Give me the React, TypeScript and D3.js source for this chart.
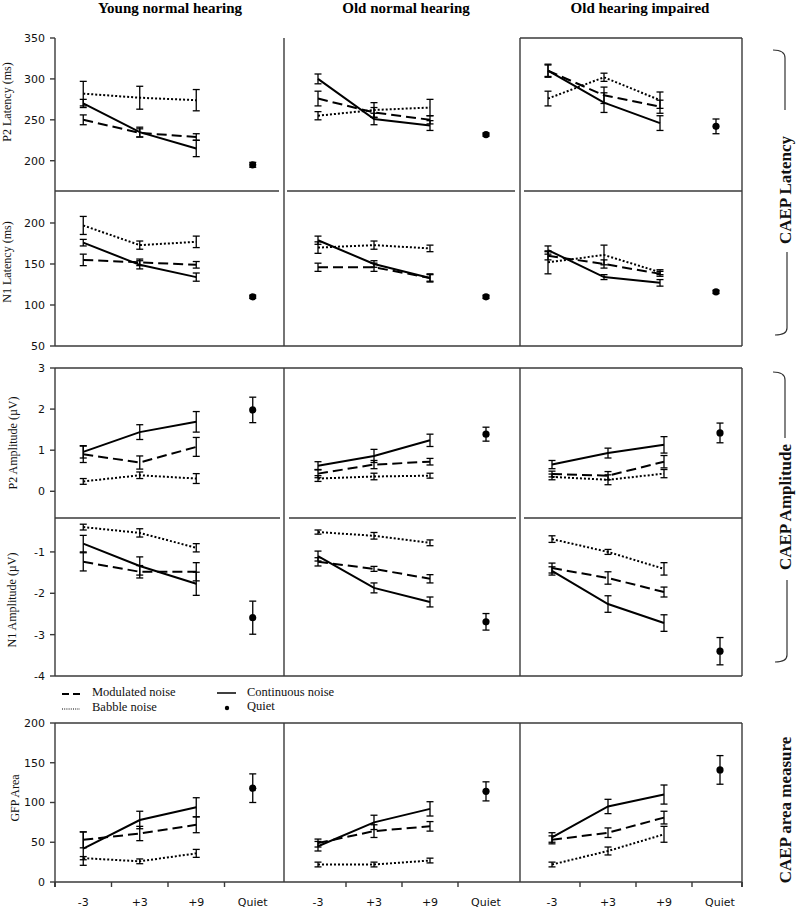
import { useEffect, useRef } from 'react';
import * as d3 from 'd3';

const groups = ['Young normal hearing', 'Old normal hearing', 'Old hearing impaired'];
const conditions = ['-3', '+3', '+9', 'Quiet'];
const snrs = ['-3', '+3', '+9'];

// one row per group, values at -3, +3, +9 dB SNR; *Err = error bar half length
const p2LatModulated = [[250, 234, 229], [276, 259, 250], [310, 280, 266]];
const p2LatModulatedErr = [[6, 5, 4], [9, 6, 5], [8, 10, 8]];
const p2LatContinuous = [[270, 235, 215], [300, 251, 243], [310, 271, 246]];
const p2LatContinuousErr = [[5, 6, 10], [6, 7, 6], [7, 12, 9]];
const p2LatBabble = [[282, 277, 274], [255, 262, 265], [276, 302, 274]];
const p2LatBabbleErr = [[15, 14, 13], [5, 9, 10], [9, 5, 10]];
const p2LatQuiet = [195, 232, 242];
const p2LatQuietErr = [3, 2, 9];

const n1LatModulated = [[155, 152, 149], [146, 146, 133], [160, 150, 138]];
const n1LatModulatedErr = [[7, 4, 4], [5, 5, 4], [5, 5, 3]];
const n1LatContinuous = [[176, 149, 134], [179, 150, 133], [167, 134, 127]];
const n1LatContinuousErr = [[4, 5, 5], [5, 4, 5], [5, 3, 4]];
const n1LatBabble = [[197, 173, 177], [170, 173, 169], [152, 161, 140]];
const n1LatBabbleErr = [[11, 5, 7], [7, 5, 4], [14, 12, 3]];
const n1LatQuiet = [110, 110, 116];
const n1LatQuietErr = [2, 2, 2];

const p2AmpModulated = [[0.9, 0.7, 1.08], [0.43, 0.65, 0.72], [0.42, 0.38, 0.72]];
const p2AmpModulatedErr = [[0.2, 0.16, 0.23], [0.1, 0.1, 0.08], [0.07, 0.1, 0.15]];
const p2AmpContinuous = [[0.96, 1.44, 1.69], [0.62, 0.86, 1.24], [0.65, 0.93, 1.13]];
const p2AmpContinuousErr = [[0.15, 0.18, 0.25], [0.1, 0.16, 0.15], [0.1, 0.12, 0.2]];
const p2AmpBabble = [[0.24, 0.39, 0.31], [0.31, 0.36, 0.38], [0.35, 0.28, 0.43]];
const p2AmpBabbleErr = [[0.07, 0.08, 0.12], [0.07, 0.08, 0.06], [0.07, 0.12, 0.1]];
const p2AmpQuiet = [1.98, 1.39, 1.42];
const p2AmpQuietErr = [0.31, 0.17, 0.24];

const n1AmpModulated = [[-1.24, -1.48, -1.48], [-1.24, -1.41, -1.65], [-1.39, -1.63, -1.97]];
const n1AmpModulatedErr = [[0.22, 0.15, 0.22], [0.1, 0.06, 0.1], [0.12, 0.15, 0.12]];
const n1AmpContinuous = [[-0.8, -1.34, -1.77], [-1.1, -1.87, -2.21], [-1.46, -2.26, -2.72]];
const n1AmpContinuousErr = [[0.2, 0.22, 0.28], [0.12, 0.12, 0.12], [0.1, 0.2, 0.2]];
const n1AmpBabble = [[-0.4, -0.54, -0.9], [-0.52, -0.61, -0.78], [-0.69, -1.0, -1.41]];
const n1AmpBabbleErr = [[0.07, 0.1, 0.1], [0.05, 0.08, 0.07], [0.08, 0.06, 0.15]];
const n1AmpQuiet = [-2.59, -2.69, -3.4];
const n1AmpQuietErr = [0.4, 0.2, 0.33];

const gfpModulated = [[53, 61, 72], [49, 64, 70], [53, 62, 81]];
const gfpModulatedErr = [[10, 9, 10], [5, 8, 6], [5, 6, 8]];
const gfpContinuous = [[42, 78, 94], [45, 75, 92], [56, 95, 110]];
const gfpContinuousErr = [[21, 11, 12], [6, 9, 9], [6, 9, 12]];
const gfpBabble = [[30, 26, 36], [22, 22, 27], [22, 39, 60]];
const gfpBabbleErr = [[2, 3, 5], [3, 3, 3], [3, 5, 10]];
const gfpQuiet = [118, 114, 141];
const gfpQuietErr = [18, 12, 18];

const rowLabels = ['P2 Latency (ms)', 'N1 Latency (ms)', 'P2 Amplitude (\u00b5V)', 'N1 Amplitude (\u00b5V)', 'GFP Area'];
const rowTicks = [[200, 250, 300, 350], [50, 100, 150, 200], [0, 1, 2, 3], [-4, -3, -2, -1], [0, 50, 100, 150, 200]];
const rowDomains = [[163, 350], [50, 239], [-0.65, 3], [-4, -0.18], [0, 200]];

const rows = [
  { m: p2LatModulated, me: p2LatModulatedErr, c: p2LatContinuous, ce: p2LatContinuousErr, b: p2LatBabble, be: p2LatBabbleErr, q: p2LatQuiet, qe: p2LatQuietErr },
  { m: n1LatModulated, me: n1LatModulatedErr, c: n1LatContinuous, ce: n1LatContinuousErr, b: n1LatBabble, be: n1LatBabbleErr, q: n1LatQuiet, qe: n1LatQuietErr },
  { m: p2AmpModulated, me: p2AmpModulatedErr, c: p2AmpContinuous, ce: p2AmpContinuousErr, b: p2AmpBabble, be: p2AmpBabbleErr, q: p2AmpQuiet, qe: p2AmpQuietErr },
  { m: n1AmpModulated, me: n1AmpModulatedErr, c: n1AmpContinuous, ce: n1AmpContinuousErr, b: n1AmpBabble, be: n1AmpBabbleErr, q: n1AmpQuiet, qe: n1AmpQuietErr },
  { m: gfpModulated, me: gfpModulatedErr, c: gfpContinuous, ce: gfpContinuousErr, b: gfpBabble, be: gfpBabbleErr, q: gfpQuiet, qe: gfpQuietErr },
];

const SERIF = '"Liberation Serif", "Times New Roman", serif';
const SANS = '"DejaVu Sans", Verdana, sans-serif';

export default function App() {
  const svgRef = useRef<SVGSVGElement>(null);

  useEffect(() => {
    if (!svgRef.current) return;
    const svg = d3.select(svgRef.current);
    svg.selectAll('*').remove();

    const frame = '#3a3a3a';
    const left = 55;
    const right = 742;
    const divX = [284, 520];
    const rowY = [[38, 191], [191, 346], [368, 518], [518, 676], [723, 882]];
    // x ranges of the band scales per column (rows 1-2 of column 3 sit a bit further left)
    const colRange = (r: number, c: number): [number, number] => {
      if (c === 0) return [55, 281];
      if (c === 1) return [290, 514];
      return r < 2 ? [520, 744] : [524, 748];
    };

    // column titles
    groups.forEach((gname, i) => {
      svg.append('text')
        .attr('x', [170, 406, 640][i])
        .attr('y', 13)
        .attr('text-anchor', 'middle')
        .attr('font-family', SERIF)
        .attr('font-weight', 'bold')
        .attr('font-size', '15px')
        .text(gname);
    });

    const frameLine = (x1: number, y1: number, x2: number, y2: number) =>
      svg.append('line')
        .attr('x1', x1).attr('y1', y1).attr('x2', x2).attr('y2', y2)
        .attr('stroke', frame).attr('stroke-width', 1.4);

    // block frames
    const blocks = [
      { top: 38, bottom: 346, fullTop: false, mid: 191, midSegs: [[55, 279], [287, 515], [524, 742]] },
      { top: 368, bottom: 676, fullTop: true, mid: 518, midSegs: [[55, 280], [289, 516], [524, 742]] },
      { top: 723, bottom: 882, fullTop: true, mid: null, midSegs: [] },
    ];
    blocks.forEach((b) => {
      [left, ...divX, right].forEach((x) => frameLine(x, b.top, x, b.bottom));
      if (b.fullTop) frameLine(left, b.top, right, b.top);
      else frameLine(divX[1], b.top, right, b.top);
      frameLine(left, b.bottom, right, b.bottom);
      if (b.mid !== null) b.midSegs.forEach(([a, z]) => frameLine(a, b.mid as number, z, b.mid as number));
    });

    const line = d3.line<[number, number]>().x((d) => d[0]).y((d) => d[1]);

    rows.forEach((row, r) => {
      const [yTop, yBot] = rowY[r];
      const y = d3.scaleLinear().domain(rowDomains[r]).range([yBot, yTop]);

      // y axis ticks on the left of the first column
      rowTicks[r].forEach((t) => {
        frameLine(left - 5, y(t), left, y(t));
        svg.append('text')
          .attr('x', left - 10)
          .attr('y', y(t))
          .attr('dy', '0.36em')
          .attr('text-anchor', 'end')
          .attr('font-family', SANS)
          .attr('font-size', '11px')
          .attr('fill', '#111')
          .text(t);
      });

      // y axis title
      const titleX = [11, 11, 17, 16, 19][r];
      const titleY = [102, 262, 443, 600, 798][r];
      svg.append('text')
        .attr('transform', `translate(${titleX},${titleY}) rotate(-90)`)
        .attr('text-anchor', 'middle')
        .attr('font-family', SERIF)
        .attr('font-size', '12px')
        .attr('fill', '#111')
        .text(rowLabels[r]);

      groups.forEach((_, c) => {
        const x = d3.scaleBand().domain(conditions).range(colRange(r, c));
        const cx = (k: string) => (x(k) as number) + x.bandwidth() / 2;
        const g = svg.append('g');

        const series = [
          { v: row.m[c], e: row.me[c], dash: '10,5', w: 2 },
          { v: row.c[c], e: row.ce[c], dash: null, w: 2 },
          { v: row.b[c], e: row.be[c], dash: '2,2', w: 2 },
        ];

        series.forEach((s) => {
          const pts = snrs.map((k, i) => [cx(k), y(s.v[i])] as [number, number]);
          const p = g.append('path')
            .attr('d', line(pts))
            .attr('fill', 'none')
            .attr('stroke', '#000')
            .attr('stroke-width', s.w);
          if (s.dash) p.attr('stroke-dasharray', s.dash);
        });

        const errBar = (px: number, v: number, e: number) => {
          const y1 = y(v - e);
          const y2 = y(v + e);
          g.append('line').attr('x1', px).attr('x2', px).attr('y1', y1).attr('y2', y2)
            .attr('stroke', '#000').attr('stroke-width', 1.3);
          [y1, y2].forEach((yy) => {
            g.append('line').attr('x1', px - 3.5).attr('x2', px + 3.5).attr('y1', yy).attr('y2', yy)
              .attr('stroke', '#000').attr('stroke-width', 1.3);
          });
        };

        series.forEach((s) => {
          snrs.forEach((k, i) => errBar(cx(k), s.v[i], s.e[i]));
        });

        // quiet condition
        errBar(cx('Quiet'), row.q[c], row.qe[c]);
        g.append('circle')
          .attr('cx', cx('Quiet'))
          .attr('cy', y(row.q[c]))
          .attr('r', 3.6)
          .attr('fill', '#000');

        // x axis on the last row
        if (r === rows.length - 1) {
          conditions.forEach((k, i) => {
            if (i > 0) frameLine(x(k) as number, yBot, x(k) as number, yBot + 5);
            svg.append('text')
              .attr('x', cx(k))
              .attr('y', 906)
              .attr('text-anchor', 'middle')
              .attr('font-family', SANS)
              .attr('font-size', '11px')
              .attr('fill', '#111')
              .text(k);
          });
          frameLine(left, yBot, left, yBot + 5);
          frameLine(right, yBot, right, yBot + 5);
        }
      });
    });

    // legend
    const lg = svg.append('g').attr('font-family', SERIF).attr('font-size', '12.5px').attr('fill', '#111');
    lg.append('line').attr('x1', 62).attr('x2', 80).attr('y1', 694).attr('y2', 694)
      .attr('stroke', '#000').attr('stroke-width', 2).attr('stroke-dasharray', '7,4');
    lg.append('text').attr('x', 92).attr('y', 696).text('Modulated noise');
    lg.append('line').attr('x1', 217).attr('x2', 236).attr('y1', 693).attr('y2', 693)
      .attr('stroke', '#000').attr('stroke-width', 1.5);
    lg.append('text').attr('x', 247).attr('y', 696).text('Continuous noise');
    lg.append('line').attr('x1', 62).attr('x2', 80).attr('y1', 709).attr('y2', 709)
      .attr('stroke', '#000').attr('stroke-width', 1).attr('stroke-dasharray', '1,1.2');
    lg.append('text').attr('x', 92).attr('y', 711).text('Babble noise');
    lg.append('circle').attr('cx', 227).attr('cy', 708).attr('r', 2.2).attr('fill', '#000');
    lg.append('text').attr('x', 247).attr('y', 710).text('Quiet');

    // right-hand group labels with brackets
    const sideLabels = [
      { text: 'CAEP Latency', y: 190 },
      { text: 'CAEP Amplitude', y: 507 },
      { text: 'CAEP area measure', y: 810 },
    ];
    sideLabels.forEach((s) => {
      svg.append('text')
        .attr('transform', `translate(791,${s.y}) rotate(-90)`)
        .attr('text-anchor', 'middle')
        .attr('font-family', SERIF)
        .attr('font-weight', 'bold')
        .attr('font-size', '17px')
        .attr('fill', '#111')
        .text(s.text);
    });
    const brackets = [
      'M773,50 Q785,50 785,58 L785,110',
      'M787,252 L787,328 Q787,335 775,335',
      'M773,372 Q785,372 785,380 L785,438',
      'M787,580 L787,655 Q787,662 775,662',
    ];
    brackets.forEach((d) => {
      svg.append('path').attr('d', d).attr('fill', 'none').attr('stroke', '#333').attr('stroke-width', 1.2);
    });
  }, []);

  return (
    <svg
      ref={svgRef}
      width={800}
      height={908}
      style={{ position: 'absolute', left: 0, top: 0, display: 'block', background: '#fff' }}
    />
  );
}
